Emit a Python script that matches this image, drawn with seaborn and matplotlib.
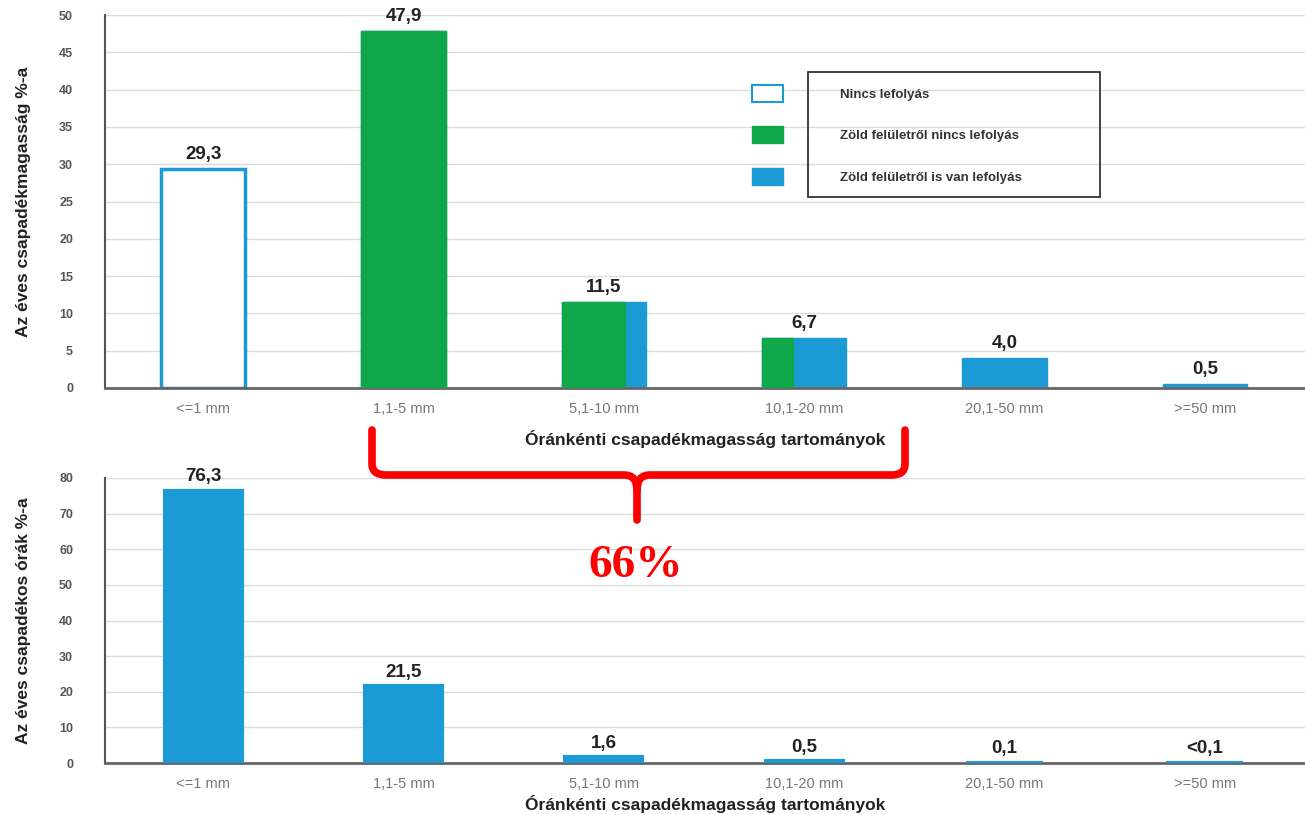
import numpy as np
import matplotlib
matplotlib.use("Agg")
import matplotlib.pyplot as plt
import seaborn as sns
from matplotlib.patches import Patch, Rectangle, PathPatch
from matplotlib.path import Path
from matplotlib.transforms import Affine2D

# data
categories = ["<=1 mm", "1,1-5 mm", "5,1-10 mm", "10,1-20 mm", "20,1-50 mm", ">=50 mm"]
rain_share = [29.3, 47.9, 11.5, 6.7, 4.0, 0.5]
rain_labels = ["29,3", "47,9", "11,5", "6,7", "4,0", "0,5"]
green_part = [0.0, 1.0, 0.75, 0.37, 0.0, 0.0]   # share of bar width with no runoff from green roof
hours_share = [76.3, 21.5, 1.6, 0.5, 0.1, 0.05]
hours_labels = ["76,3", "21,5", "1,6", "0,5", "0,1", "<0,1"]
legend_labels = ["Nincs lefolyás", "Zöld felületről nincs lefolyás", "Zöld felületről is van lefolyás"]
xlabel = "Óránkénti csapadékmagasság tartományok"
ylabel_top = "Az éves csapadékmagasság %-a"
ylabel_bottom = "Az éves csapadékos órák %-a"

blue = "#1b9ad6"
green = "#10a64a"
W, H = 1305, 815

sns.set_theme(style="white")
plt.rcParams["font.family"] = ["Liberation Sans", "DejaVu Sans"]

fig = plt.figure(figsize=(W / 100, H / 100), dpi=100)
ax1 = fig.add_axes([105 / W, 1 - 388 / H, 1200 / W, 373 / H])
ax2 = fig.add_axes([105 / W, 1 - 763 / H, 1200 / W, 285 / H])

bw = 0.42


def style_axis(ax, ymax, step, ylab, xpad):
    ax.set_ylim(0, ymax)
    ax.set_xlim(-0.49, 5.5)
    ax.set_yticks(np.arange(0, ymax + 0.1, step))
    ax.yaxis.grid(True, color="#dcdcdc", lw=1)
    ax.set_axisbelow(True)
    ax.tick_params(axis="y", length=13, color="#cfcfcf", labelsize=9, labelcolor="#555555", pad=10)
    for t in ax.get_yticklabels():
        t.set_fontweight("bold")
    ax.tick_params(axis="x", length=0, labelsize=10.5, labelcolor="#777777", pad=10)
    for s in ["top", "right"]:
        ax.spines[s].set_visible(False)
    ax.spines["left"].set_color("#555555")
    ax.spines["left"].set_linewidth(1.5)
    ax.spines["bottom"].set_color("#666666")
    ax.spines["bottom"].set_linewidth(2)
    ax.set_xlabel(xlabel, fontsize=12.5, fontweight="bold", color="#222222", labelpad=xpad)
    ax.set_ylabel(ylab, fontsize=12.5, fontweight="bold", color="#222222", labelpad=20)


# top chart
sns.barplot(x=categories, y=rain_share, color=blue, width=bw, saturation=1, ax=ax1)
bars = ax1.patches[:len(categories)]
bars[0].set_facecolor("white")
bars[0].set_edgecolor(blue)
bars[0].set_linewidth(2.5)
for bar in bars[1:]:
    bar.set_edgecolor(blue)
    bar.set_linewidth(1)
# green portion on the left side of the bars
for i, (h, g) in enumerate(zip(rain_share, green_part)):
    if g > 0:
        ax1.bar(i - bw / 2 + bw * g / 2, h, width=bw * g, color=green, edgecolor=green, lw=1, zorder=3)
for i, (h, lab) in enumerate(zip(rain_share, rain_labels)):
    ax1.text(i, h + 0.8, lab, ha="center", va="bottom", fontsize=13.5, fontweight="bold", color="#222222")
style_axis(ax1, 50, 5, ylabel_top, 10)

handles = [Patch(facecolor="white", edgecolor=blue, lw=1.5),
           Patch(facecolor=green, edgecolor=green),
           Patch(facecolor=blue, edgecolor=blue)]
ax1.legend(handles, legend_labels, frameon=False, loc="upper left", bbox_to_anchor=(0.539, 0.812),
           borderaxespad=0, borderpad=0, handlelength=2.35, handleheight=1.6, labelspacing=1.85,
           handletextpad=4.3, prop={"size": 9.5, "weight": "bold"}, labelcolor="#333333")
fig.add_artist(Rectangle((808 / W, 1 - 197 / H), 292 / W, 125 / H, transform=fig.transFigure,
                         fill=False, ec="#333333", lw=1.3))

# bottom chart
sns.barplot(x=categories, y=hours_share, color=blue, width=0.385, saturation=1, ax=ax2,
            edgecolor=blue, linewidth=3)
for bar in ax2.patches:
    bar.set_zorder(3)
for i, (h, lab) in enumerate(zip(hours_share, hours_labels)):
    ax2.text(i, h + 1.6, lab, ha="center", va="bottom", fontsize=13.5, fontweight="bold", color="#222222")
style_axis(ax2, 80, 10, ylabel_bottom, 3)

# red brace (pixel coordinates)
px = Affine2D().scale(1 / W, -1 / H).translate(0, 1) + fig.transFigure
verts = [(372, 430), (372, 464), (372, 475), (386, 475), (624, 475), (637, 475), (637, 490), (637, 520),
         (637, 490), (637, 475), (650, 475), (892, 475), (905, 475), (905, 464), (905, 430)]
codes = [Path.MOVETO, Path.LINETO, Path.CURVE3, Path.CURVE3, Path.LINETO, Path.CURVE3, Path.CURVE3, Path.LINETO,
         Path.MOVETO, Path.CURVE3, Path.CURVE3, Path.LINETO, Path.CURVE3, Path.CURVE3, Path.LINETO]
fig.add_artist(PathPatch(Path(verts, codes), transform=px, fill=False, ec="#ff0000", lw=5.5,
                         capstyle="round", joinstyle="round"))
fig.text(636 / W, 1 - 566 / H, "66%", ha="center", va="center", color="#ff0000", fontsize=34,
         fontweight="bold", family=["Liberation Serif", "DejaVu Serif"])

fig.savefig("out.png", dpi=100)
